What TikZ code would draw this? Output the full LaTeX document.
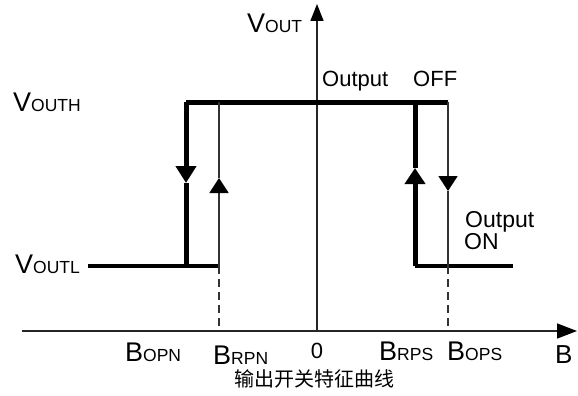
\documentclass[tikz,border=0pt]{standalone}
\usepackage{fontspec}
\setmainfont{Liberation Sans}
\newfontfamily\cjk{Noto Sans CJK SC}
\usetikzlibrary{arrows.meta}

% label with a big first letter and small caps after it
\newcommand{\biglbl}[2]{{\fontsize{27}{27}\selectfont #1}{\fontsize{17.5}{17.5}\selectfont #2}}

\begin{document}
\begin{tikzpicture}[x=1pt, y=-1pt]
\tikzset{thickline/.style = {draw=black, line width=5pt}}
    \tikzset{lowline/.style = {draw=black, line width=3.5pt}}
    \tikzset{thinline/.style = {draw=black!80, line width=1.8pt}}
    \tikzset{axisline/.style = {draw=black!85, line width=1.5pt}}
    \tikzset{lbl/.style = {inner sep=0pt, anchor=base west}}
\useasboundingbox (0,0) rectangle (578,396);

% Define the corner points of the loop
\coordinate (O) at (317,331);
\coordinate (xs) at (22,331);
\coordinate (xe) at (577,331);
\coordinate (ye) at (317,4);
\coordinate (tl) at (186,102);
\coordinate (tr) at (448,102);
\coordinate (bl) at (186,266);
\coordinate (ll) at (88,266);
\coordinate (rpn) at (219,266);
\coordinate (rpntop) at (219,102);
\coordinate (rps) at (415,266);
\coordinate (rpstop) at (415,102);
\coordinate (rr) at (513,266);
\coordinate (ops) at (448,266);
\coordinate (rpnax) at (219,331);
\coordinate (opsax) at (448,331);
% arrow tips on the vertical edges
\coordinate (opndn) at (186,183);
\coordinate (rpnup) at (219,178);
\coordinate (rpsup) at (415,168);
\coordinate (opsdn) at (448,191);

% Draw the axes
\draw[axisline, -{Triangle[length=20pt, width=15pt, color=black]}] (xs) -- (xe);
\draw[axisline, -{Triangle[length=17pt, width=13pt, color=black]}] (O) -- (ye);

% Draw the hysteresis loop
\draw[thickline] (tl) -- (tr);
\draw[lowline] (ll) -- (rpn);
\draw[lowline] (rps) -- (rr);
\draw[thickline, -{Triangle[length=17pt, width=20pt]}] (tl) -- (opndn);
\draw[thickline] (opndn) -- (bl);
\draw[thinline, -{Triangle[length=15pt, width=19pt, color=black]}] (rpn) -- (rpnup);
\draw[thinline] (rpnup) -- (rpntop);
\draw[thickline, -{Triangle[length=16pt, width=20pt]}] (rps) -- (rpsup);
\draw[thickline] (rpsup) -- (rpstop);
\draw[thinline, -{Triangle[length=15pt, width=19pt, color=black]}] (tr) -- (opsdn);
\draw[thinline] (opsdn) -- (ops);
\draw[thinline, dash pattern=on 8pt off 5pt] (rpn) -- (rpnax);
\draw[thinline, dash pattern=on 8pt off 5pt] (ops) -- (opsax);

% Labels
\node[lbl] (vout) at (247,33) {\biglbl{V}{OUT}};
\node[lbl] (vouth) at (13,111) {\biglbl{V}{OUTH}};
\node[lbl] (voutl) at (15,273) {\biglbl{V}{OUTL}};
\node[lbl] (bopn) at (125,361) {\biglbl{B}{OPN}};
\node[lbl] (brpn) at (213,364) {\biglbl{B}{RPN}};
\node[lbl, anchor=base] (zero) at (317,358) {\fontsize{22}{22}\selectfont 0};
\node[lbl] (brps) at (379,360) {\biglbl{B}{RPS}};
\node[lbl] (bops) at (447,360) {\biglbl{B}{OPS}};
\node[lbl] (bax) at (555,363) {\fontsize{26}{26}\selectfont B};
\node[lbl] (outoff) at (322,86) {\fontsize{22}{22}\selectfont Output};
\node[lbl] (off) at (413,86) {\fontsize{22}{22}\selectfont OFF};
\node[lbl] (outon) at (465,227) {\fontsize{23}{23}\selectfont Output};
\node[lbl] (on) at (464,249) {\fontsize{23}{23}\selectfont ON};
\node[lbl, anchor=base] (title) at (314,386) {\cjk\fontsize{20}{20}\selectfont 输出开关特征曲线};
\end{tikzpicture}
\end{document}
